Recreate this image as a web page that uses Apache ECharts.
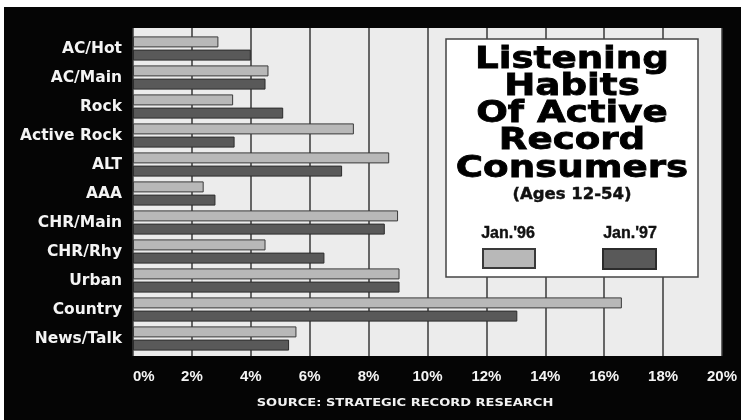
<!DOCTYPE html>
<html>
<head>
<meta charset="utf-8">
<script src="https://cdn.jsdelivr.net/npm/echarts@6/dist/echarts.min.js"></script>
<style>html,body{margin:0;padding:0;background:#fff}#c{width:748px;height:420px}</style>
</head>
<body>
<div id="c"></div>
<script>
const categories = ['AC/Hot','AC/Main','Rock','Active Rock','ALT','AAA','CHR/Main','CHR/Rhy','Urban','Country','News/Talk'];
const jan96 = [2.9, 4.6, 3.4, 7.5, 8.7, 2.4, 9.0, 4.5, 9.05, 16.6, 5.55];
const jan97 = [4.0, 4.5, 5.1, 3.45, 7.1, 2.8, 8.55, 6.5, 9.05, 13.05, 5.3];
const seriesNames = ["Jan.'96", "Jan.'97"];
const titleLines = ['Listening', 'Habits', 'Of Active', 'Record', 'Consumers'];
const subtitle = '(Ages 12-54)';
const sourceText = 'SOURCE: STRATEGIC RECORD RESEARCH';

const chart = echarts.init(document.getElementById('c'), null, {renderer: 'canvas'});
const titleY = [60, 87, 114, 141, 169];
const graphics = [
  {type: 'rect', z: -2, shape: {x: 4, y: 7, width: 737, height: 413}, style: {fill: '#050505'}},
  {type: 'rect', z: -1, shape: {x: 133, y: 28, width: 589, height: 328}, style: {fill: '#ececec'}},
  {type: 'rect', z: 10, shape: {x: 446, y: 39, width: 252, height: 238}, style: {fill: '#ffffff', stroke: '#444', lineWidth: 1.5}},
  {type: 'text', z: 11, x: 572, y: 195, scaleX: 1.1, style: {text: subtitle, fill: '#111', stroke: '#111', lineWidth: 0.4, font: 'bold 15px "DejaVu Sans"', align: 'center', verticalAlign: 'middle'}},
  {type: 'text', z: 11, x: 508, y: 234, style: {text: seriesNames[0], fill: '#111', stroke: '#111', lineWidth: 0.4, font: 'bold 16px "Liberation Sans"', align: 'center', verticalAlign: 'middle'}},
  {type: 'text', z: 11, x: 630, y: 234, style: {text: seriesNames[1], fill: '#111', stroke: '#111', lineWidth: 0.4, font: 'bold 16px "Liberation Sans"', align: 'center', verticalAlign: 'middle'}},
  {type: 'text', z: 11, x: 405, y: 403, scaleX: 1.24, style: {text: sourceText, fill: '#f2f2f2', font: 'bold 10.5px "DejaVu Sans"', align: 'center', verticalAlign: 'middle'}}
];
titleLines.forEach((t, i) => {
  graphics.push({type: 'text', z: 11, x: 572, y: titleY[i], scaleX: 1.2,
    style: {text: t, fill: '#000', stroke: '#000', lineWidth: 0.8, font: 'bold 31px "DejaVu Sans"', align: 'center', verticalAlign: 'middle'}});
});

const option = {
  backgroundColor: '#ffffff',
  animation: false,
  graphic: graphics,
  grid: [
    {left: 133, right: 26, top: 34, height: 319},
    {left: 133, right: 26, top: 28, bottom: 64}
  ],
  legend: [
    {data: [seriesNames[0]], left: 482, top: 248, itemWidth: 52, itemHeight: 19, icon: 'rect', formatter: () => '', z: 12, padding: 0},
    {data: [seriesNames[1]], left: 602, top: 248, itemWidth: 53, itemHeight: 20, icon: 'rect', formatter: () => '', z: 12, padding: 0}
  ],
  xAxis: [
    {type: 'value', gridIndex: 0, min: 0, max: 20, interval: 2, show: false},
    {type: 'value', gridIndex: 1, min: 0, max: 20, interval: 2,
      axisLine: {show: false}, axisTick: {show: false},
      splitLine: {show: true, lineStyle: {color: '#3a3a3a', width: 1.5}},
      axisLabel: {formatter: '{value}%', color: '#f4f4f4', fontFamily: 'Liberation Sans', fontWeight: 'bold', fontSize: 15, margin: 13, alignMinLabel: 'left'}}
  ],
  yAxis: [
    {type: 'category', gridIndex: 0, data: categories, inverse: true,
      axisLine: {show: false}, axisTick: {show: false}, splitLine: {show: false},
      axisLabel: {color: '#f4f4f4', fontFamily: 'DejaVu Sans', fontWeight: 'bold', fontSize: 15.5, margin: 11}},
    {type: 'value', gridIndex: 1, min: 0, max: 1, show: false}
  ],
  series: [
    {name: seriesNames[0], type: 'bar', xAxisIndex: 0, yAxisIndex: 0, data: jan96, barWidth: 11, barGap: '20%',
      itemStyle: {color: '#b8b8b8', borderColor: '#3a3a3a', borderWidth: 1}},
    {name: seriesNames[1], type: 'bar', xAxisIndex: 0, yAxisIndex: 0, data: jan97, barWidth: 11, barGap: '20%',
      itemStyle: {color: '#595959', borderColor: '#2c2c2c', borderWidth: 1}}
  ]
};
chart.setOption(option);
</script>
</body>
</html>
